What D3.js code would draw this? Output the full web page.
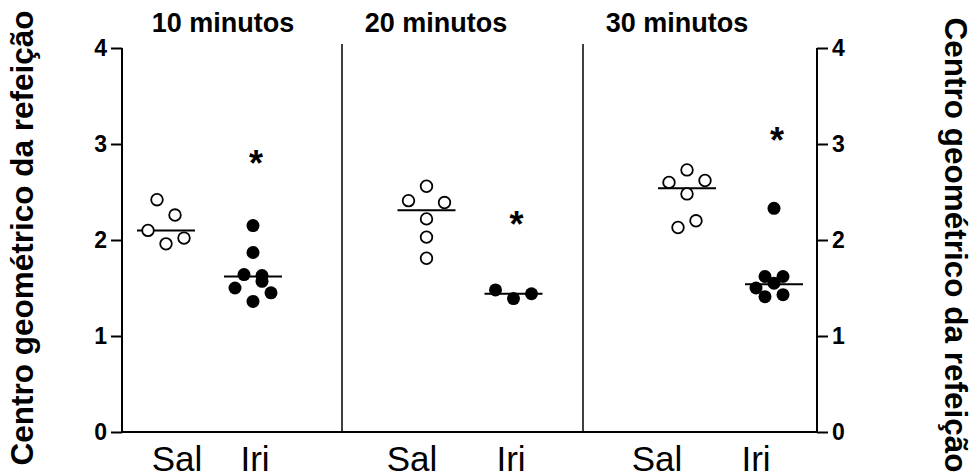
<!DOCTYPE html>
<html>
<head>
<meta charset="utf-8">
<script src="https://cdn.jsdelivr.net/npm/d3@7"></script>
<style>
    body { margin: 0; background: #fff; }
    text { font-family: Arial, "Liberation Sans", sans-serif; fill: #000; }
</style>
</head>
<body>
<div id="chart"></div>
<script>

// panels and groups
let panels = ["10 minutos", "20 minutos", "30 minutos"];
let groups = ["Sal", "Iri"];
let yTicks = [0, 1, 2, 3, 4];

// individual values, one list per panel and group
let sal10 = [2.42, 2.26, 2.10, 2.02, 1.96];
let iri10 = [2.15, 1.87, 1.64, 1.63, 1.57, 1.50, 1.45, 1.36];
let sal20 = [2.41, 2.56, 2.39, 2.22, 2.03, 1.81];
let iri20 = [1.48, 1.39, 1.44];
let sal30 = [2.73, 2.62, 2.60, 2.48, 2.20, 2.13];
let iri30 = [2.33, 1.62, 1.62, 1.55, 1.50, 1.43, 1.41];

// horizontal slot of each point inside its column (scatter jitter)
let sal10Slot = [-1, 1, -2, 2, 0];
let iri10Slot = [0, 0, -1, 1, 1, -2, 2, 0];
let sal20Slot = [-2, 0, 2, 0, 0, 0];
let iri20Slot = [-2, 0, 2];
let sal30Slot = [0, 2, -2, 0, 1, -1];
let iri30Slot = [0, -1, 1, 0, -2, 1, -1];

// medians and significance marks
let salMedian = [2.10, 2.31, 2.54];
let iriMedian = [1.62, 1.44, 1.54];
let starValue = [2.83, 2.20, 3.07];

let width = 978, height = 476;
let margin = {top: 48, right: 161, bottom: 44, left: 122};

let svg = d3.select("#chart").append("svg")
    .attr("width", width)
    .attr("height", height);

let y = d3.scaleLinear()
    .domain([0, 4])
    .range([height - margin.bottom, margin.top]);

let xPanel = d3.scalePoint()
    .domain(panels)
    .range([166, 687]);

let xGroup = d3.scalePoint()
    .domain(groups)
    .range([0, 87]);

let xSlot = d3.scaleLinear()
    .domain([-2, 2])
    .range([-18, 18]);

let x0 = margin.left, x1 = width - margin.right;

// build point table
let series = [
    [sal10, sal10Slot], [iri10, iri10Slot],
    [sal20, sal20Slot], [iri20, iri20Slot],
    [sal30, sal30Slot], [iri30, iri30Slot]
];
let points = [];
series.forEach((s, k) => {
    let panel = panels[Math.floor(k / 2)];
    let group = groups[k % 2];
    s[0].forEach((v, i) => points.push({panel: panel, group: group, value: v, slot: s[1][i]}));
});

let medians = [];
panels.forEach((p, i) => {
    medians.push({panel: p, group: "Sal", value: salMedian[i]});
    medians.push({panel: p, group: "Iri", value: iriMedian[i]});
});

// axes
let leftAxis = d3.axisLeft(y).tickValues(yTicks).tickSize(11).tickPadding(4).tickFormat(d3.format("d"));
let rightAxis = d3.axisRight(y).tickValues(yTicks).tickSize(11).tickPadding(4).tickFormat(d3.format("d"));

let gl = svg.append("g").attr("transform", `translate(${x0},0)`).call(leftAxis);
let gr = svg.append("g").attr("transform", `translate(${x1},0)`).call(rightAxis);

[gl, gr].forEach(g => {
    g.select(".domain").attr("d", `M0,${y(4)}V${y(0)}`).attr("stroke", "#000").attr("stroke-width", 2);
    g.selectAll(".tick line").attr("stroke", "#000").attr("stroke-width", 2);
    g.selectAll(".tick text")
        .attr("font-family", "Arial, 'Liberation Sans', sans-serif")
        .attr("font-size", 23)
        .attr("font-weight", "bold")
        .attr("fill", "#000");
});

// x baseline
svg.append("line")
    .attr("x1", x0).attr("x2", x1)
    .attr("y1", y(0)).attr("y2", y(0))
    .attr("stroke", "#000").attr("stroke-width", 2);

// panel dividers
let dividerX = [342, 583];
svg.selectAll(".divider")
    .data(dividerX)
    .enter()
    .append("line")
    .attr("class", "divider")
    .attr("x1", d => d).attr("x2", d => d)
    .attr("y1", y(4) - 4).attr("y2", y(0))
    .attr("stroke", "#000").attr("stroke-width", 1.5);

// panel titles
let titleX = [223, 436, 677];
svg.selectAll(".title")
    .data(panels)
    .enter()
    .append("text")
    .attr("class", "title")
    .attr("x", (d, i) => titleX[i])
    .attr("y", 32)
    .attr("text-anchor", "middle")
    .attr("font-size", 27)
    .attr("font-weight", "bold")
    .text(d => d);

// category labels
let salLabelX = [177, 412, 657];
let iriLabelX = [255, 511, 756];
panels.forEach((p, i) => {
    [[groups[0], salLabelX[i]], [groups[1], iriLabelX[i]]].forEach(g => {
        svg.append("text")
            .attr("x", g[1])
            .attr("y", 471)
            .attr("text-anchor", "middle")
            .attr("font-size", 35)
            .text(g[0]);
    });
});

// medians
svg.selectAll(".median")
    .data(medians)
    .enter()
    .append("line")
    .attr("class", "median")
    .attr("x1", d => xPanel(d.panel) + xGroup(d.group) - 29)
    .attr("x2", d => xPanel(d.panel) + xGroup(d.group) + 29)
    .attr("y1", d => y(d.value))
    .attr("y2", d => y(d.value))
    .attr("stroke", "#000")
    .attr("stroke-width", 2);

// points
svg.selectAll(".dot")
    .data(points)
    .enter()
    .append("circle")
    .attr("class", "dot")
    .attr("cx", d => xPanel(d.panel) + xGroup(d.group) + xSlot(d.slot))
    .attr("cy", d => y(d.value))
    .attr("r", d => d.group === "Sal" ? 5.8 : 6.5)
    .attr("fill", d => d.group === "Sal" ? "#fff" : "#000")
    .attr("stroke", "#000")
    .attr("stroke-width", d => d.group === "Sal" ? 1.8 : 0);

// stars
svg.selectAll(".star")
    .data(starValue)
    .enter()
    .append("text")
    .attr("class", "star")
    .attr("x", (d, i) => xPanel(panels[i]) + xGroup("Iri") + 3)
    .attr("y", d => y(d) + 16)
    .attr("text-anchor", "middle")
    .attr("font-size", 36)
    .attr("font-weight", "bold")
    .text("*");

// y titles
let yTitle = "Centro geométrico da refeição";
svg.append("text")
    .attr("transform", "translate(33,238) rotate(-90)")
    .attr("text-anchor", "middle")
    .attr("font-size", 31.5)
    .attr("font-weight", "bold")
    .text(yTitle);

svg.append("text")
    .attr("transform", "translate(945,245) rotate(90)")
    .attr("text-anchor", "middle")
    .attr("font-size", 31.5)
    .attr("font-weight", "bold")
    .text(yTitle);

</script>
</body>
</html>
